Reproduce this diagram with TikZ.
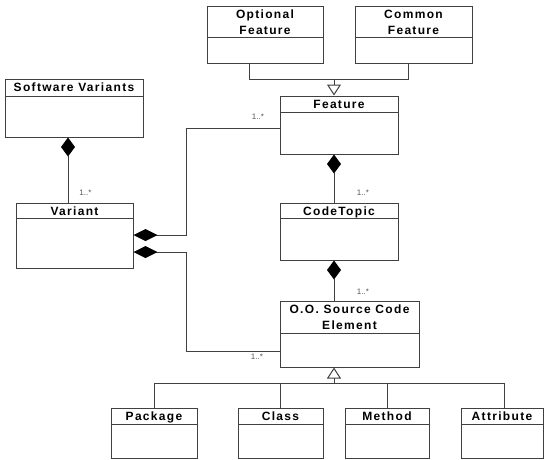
\documentclass[tikz,border=0pt]{standalone}
\usepackage{fontspec}
\setmainfont{Liberation Sans}
\newfontfamily\titlefont[LetterSpace=11]{Liberation Sans}
\usetikzlibrary{arrows.meta}
\definecolor{linec}{HTML}{404040}
\definecolor{multc}{HTML}{555555}
\tikzset{
  cls/.style={draw=linec, line width=1pt, inner sep=0pt, rectangle},
  ttl/.style={font=\titlefont\bfseries\fontsize{12}{15.5}\selectfont, align=center, inner sep=0pt, anchor=base},
  conn/.style={draw=linec, line width=1pt},
  comp/.style={conn, {Diamond[length=19pt,width=14pt,color=black]}-},
  compv/.style={conn, {Diamond[length=24pt,width=12pt,color=black]}-},
  gen/.style={conn, -{Triangle[open,length=11pt,width=14pt,color=linec]}},
  mult/.style={font=\fontsize{8}{9}\selectfont, text=multc, inner sep=0pt}
}
% name, x1, y1, x2, y2, y of header line, extra title lines, title
\newcommand\umlbox[8]{%
  \pgfmathsetmacro\bw{#4-#2}\pgfmathsetmacro\bh{#5-#3}%
  \pgfmathsetmacro\bx{(#2+#4)/2}\pgfmathsetmacro\by{(#3+#5)/2}%
  \pgfmathsetmacro\tyy{#3+12.8+15.5*#7}%
  \node[cls, minimum width=\bw pt, minimum height=\bh pt] (#1) at (\bx,\by) {};
  \node[ttl] (#1-t) at (\bx,\tyy) {#8};
  \draw[conn] (#2,#6) -- (#4,#6);}
\begin{document}
\begin{tikzpicture}[x=1pt,y=-1pt]
\useasboundingbox (0,0) rectangle (544,459);
\umlbox{opt}{207}{6}{323}{63}{37}{1}{Optional\\Feature}
\umlbox{com}{355}{6}{472}{63}{37}{1}{Common\\Feature}
\umlbox{feat}{280}{96}{398}{154}{112}{0}{Feature}
\umlbox{ct}{280}{203}{398}{260}{218}{0}{CodeTopic}
\umlbox{oo}{280}{301}{419}{367}{333}{1}{O.O. Source Code\\Element}
\umlbox{sv}{5}{79}{143}{137}{96}{0}{Software Variants}
\umlbox{var}{16}{203}{133}{268}{218}{0}{Variant}
\umlbox{pkg}{111}{408}{197}{458}{424}{0}{Package}
\umlbox{cls}{238}{408}{323}{458}{424}{0}{Class}
\umlbox{meth}{345}{408}{429}{458}{424}{0}{Method}
\umlbox{attr}{461}{408}{543}{458}{424}{0}{Attribute}
% junction coordinates
\coordinate (j1) at (334,79);
\coordinate (j2) at (334,383);
\coordinate (k1) at (186,128);
\coordinate (k2) at (186,351);
\coordinate (cx) at (334,0);
\coordinate (sx) at (68,0);
% generalization to Feature
\draw[conn] ([xshift=-16pt]opt.south) |- (j1);
\draw[conn] ([xshift=-5.5pt]com.south) |- (j1);
\draw[gen] (j1) -- (feat.north -| j1);
% compositions
\draw[comp] (feat.south -| cx) -- (ct.north -| cx);
\draw[comp] (ct.south -| cx) -- (oo.north -| cx);
\draw[comp] (sv.south -| sx) -- (var.north -| sx);
\draw[compv] ([yshift=0.5pt]var.east) -| (k1) -- (feat.west |- k1);
\draw[compv] ([yshift=-16.5pt]var.east) -| (k2) -- (oo.west |- k2);
% generalization to O.O. Source Code Element
\draw[gen] (j2) -- (oo.south -| j2);
\draw[conn] (pkg.north) |- ([xshift=2pt]attr.north |- j2) -- ([xshift=2pt]attr.north);
\draw[conn] (cls.north) -- (cls.north |- j2);
\draw[conn] (meth.north) -- (meth.north |- j2);
% multiplicities
\node[mult] (m1) at (85.5,193) {1..*};
\node[mult] (m2) at (363,193) {1..*};
\node[mult] (m3) at (363,292) {1..*};
\node[mult] (m4) at (258,117) {1..*};
\node[mult] (m5) at (257,357) {1..*};
\end{tikzpicture}
\end{document}
